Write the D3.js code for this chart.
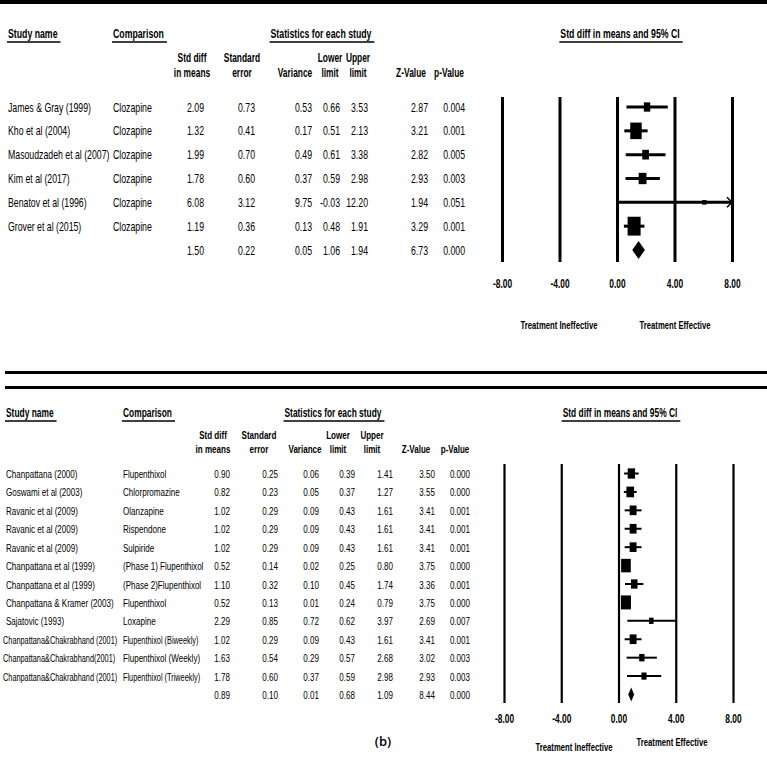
<!DOCTYPE html>
<html>
<head>
<meta charset="utf-8">
<script src="https://cdn.jsdelivr.net/npm/d3@7"></script>
<style>
  body { margin: 0; background: #fff; }
  text { font-family: "Liberation Sans", Arial, sans-serif; fill: #000; }
</style>
</head>
<body>
<div id="chart"></div>
<script>
// ---- data: panel (a) clozapine ----
var topStudies = ["James & Gray (1999)", "Kho et al (2004)", "Masoudzadeh et al (2007)", "Kim et al (2017)", "Benatov et al (1996)", "Grover et al (2015)", ""];
var topComparison = ["Clozapine", "Clozapine", "Clozapine", "Clozapine", "Clozapine", "Clozapine", ""];
var topEffect = [2.09, 1.32, 1.99, 1.78, 6.08, 1.19, 1.50];
var topSE = [0.73, 0.41, 0.70, 0.60, 3.12, 0.36, 0.22];
var topVariance = [0.53, 0.17, 0.49, 0.37, 9.75, 0.13, 0.05];
var topLower = [0.66, 0.51, 0.61, 0.59, -0.03, 0.48, 1.06];
var topUpper = [3.53, 2.13, 3.38, 2.98, 12.20, 1.91, 1.94];
var topZ = [2.87, 3.21, 2.82, 2.93, 1.94, 3.29, 6.73];
var topP = [0.004, 0.001, 0.005, 0.003, 0.051, 0.001, 0.000];

// ---- data: panel (b) flupenthixol etc ----
var botStudies = ["Chanpattana (2000)", "Goswami et al (2003)", "Ravanic et al (2009)", "Ravanic et al (2009)", "Ravanic et al (2009)",
  "Chanpattana et al (1999)", "Chanpattana et al (1999)", "Chanpattana & Kramer (2003)", "Sajatovic (1993)",
  "Chanpattana&Chakrabhand (2001)", "Chanpattana&Chakrabhand(2001)", "Chanpattana&Chakrabhand (2001)", ""];
var botComparison = ["Flupenthixol", "Chlorpromazine", "Olanzapine", "Rispendone", "Sulpiride", "(Phase 1) Flupenthixol",
  "(Phase 2)Flupenthixol", "Flupenthixol", "Loxapine", "Flupenthixol (Biweekly)", "Flupenthixol (Weekly)", "Flupenthixol (Triweekly)", ""];
var botEffect = [0.90, 0.82, 1.02, 1.02, 1.02, 0.52, 1.10, 0.52, 2.29, 1.02, 1.63, 1.78, 0.89];
var botSE = [0.25, 0.23, 0.29, 0.29, 0.29, 0.14, 0.32, 0.13, 0.85, 0.29, 0.54, 0.60, 0.10];
var botVariance = [0.06, 0.05, 0.09, 0.09, 0.09, 0.02, 0.10, 0.01, 0.72, 0.09, 0.29, 0.37, 0.01];
var botLower = [0.39, 0.37, 0.43, 0.43, 0.43, 0.25, 0.45, 0.24, 0.62, 0.43, 0.57, 0.59, 0.68];
var botUpper = [1.41, 1.27, 1.61, 1.61, 1.61, 0.80, 1.74, 0.79, 3.97, 1.61, 2.68, 2.98, 1.09];
var botZ = [3.50, 3.55, 3.41, 3.41, 3.41, 3.75, 3.36, 3.75, 2.69, 3.41, 3.02, 2.93, 8.44];
var botP = [0.000, 0.000, 0.001, 0.001, 0.001, 0.000, 0.001, 0.000, 0.007, 0.001, 0.003, 0.003, 0.000];

var xTicks = [-8, -4, 0, 4, 8];
var colHeads = [["Std diff", "in means"], ["Standard", "error"], ["", "Variance"], ["Lower", "limit"], ["Upper", "limit"], ["", "Z-Value"], ["", "p-Value"]];

var width = 767, height = 762;
var NARROW = 0.7;   // squeeze Liberation Sans to look like Arial Narrow

var svg = d3.select("#chart")
    .append("svg")
    .attr("width", width)
    .attr("height", height);

// thick rules
svg.append("rect").attr("x", 0).attr("y", 0).attr("width", width).attr("height", 4);
svg.append("rect").attr("x", 5).attr("y", 371).attr("width", width - 5).attr("height", 3);
svg.append("rect").attr("x", 5).attr("y", 386).attr("width", width - 5).attr("height", 3);

// narrow text helper
function ntext(g, x, y, str, size, anchor, bold) {
    return g.append("text")
        .attr("transform", "translate(" + x + "," + y + ") scale(" + NARROW + ",1)")
        .attr("font-size", size)
        .attr("font-weight", bold ? "bold" : null)
        .attr("text-anchor", anchor || "start")
        .text(str);
}

// draws one text with a line under it
function underlined(g, x, y, txt, size, anchor) {
    var t = ntext(g, x, y, txt, size, anchor, true);
    var w = t.node().getComputedTextLength() * NARROW;
    var x0 = anchor == "middle" ? x - w / 2 : x;
    g.append("line")
        .attr("x1", x0 - 1).attr("x2", x0 + w + 3)
        .attr("y1", y + 4).attr("y2", y + 4)
        .attr("stroke", "black").attr("stroke-width", 1.6);
}

function drawPanel(p) {
    var g = svg.append("g");
    var n = p.effect.length;
    var fmt2 = function(v) { return v.toFixed(2); };
    var fmt3 = function(v) { return v.toFixed(3); };

    var y = d3.scaleLinear().domain([0, n - 1]).range([p.rowTop, p.rowBottom]);
    var x = d3.scaleLinear().domain([-8, 8]).range(p.xRange);

    // headers
    underlined(g, p.nameX, p.hdrY, "Study name", p.hdrSize);
    underlined(g, p.compX, p.hdrY, "Comparison", p.hdrSize);
    underlined(g, p.statsX, p.hdrY, "Statistics for each study", p.hdrSize, "middle");
    underlined(g, p.ciX, p.hdrY, "Std diff in means and 95% CI", p.hdrSize, "middle");

    colHeads.forEach(function(h, i) {
        ntext(g, p.headX[i], p.sub1Y, h[0], p.subSize, "middle", true);
        ntext(g, p.headX[i], p.sub2Y, h[1], p.subSize, "middle", true);
    });

    // table rows
    var cols = [p.effect, p.se, p.variance, p.lower, p.upper, p.z, p.p];
    for (var i = 0; i < n; i++) {
        var by = y(i) + 4.5;
        var longName = p.studies[i].length > 28;
        ntext(g, p.nameX - (longName ? 3 : 0), by, p.studies[i], longName ? p.rowSize - 1 : p.rowSize);
        ntext(g, p.compX, by, p.comparison[i], p.comparison[i].length > 22 ? p.rowSize - 1 : p.rowSize);
        cols.forEach(function(c, j) {
            ntext(g, p.numX[j], by, j == 6 ? fmt3(c[i]) : fmt2(c[i]), p.rowSize, "end");
        });
    }

    // vertical reference lines + tick labels
    var axis = d3.axisBottom(x)
        .tickValues(xTicks)
        .tickSize(-(p.lineBottom - p.lineTop))
        .tickPadding(p.tickPad)
        .tickFormat(function(d) { return d.toFixed(2); });
    var ax = g.append("g")
        .attr("transform", "translate(0," + p.lineBottom + ")")
        .call(axis);
    ax.select(".domain").remove();
    ax.selectAll("line").attr("stroke", "black").attr("stroke-width", p.gridW);
    ax.selectAll("text")
        .attr("font-size", 12).attr("font-weight", "bold").attr("font-family", null)
        .attr("dy", null)
        .attr("transform", "scale(" + NARROW + ",1)");

    // marker sizes from weights
    var weights = p.se.slice(0, n - 1).map(function(s) { return 1 / (s * s); });
    var size = d3.scalePow().exponent(p.sizeExp)
        .domain([p.sizeExp == 0.5 ? 0 : d3.min(weights), d3.max(weights)])
        .range(p.sizeRange);

    for (var i = 0; i < n - 1; i++) {
        var cy = y(i);
        var lo = Math.max(p.lower[i], -8), hi = Math.min(p.upper[i], 8);
        g.append("line")
            .attr("x1", x(lo)).attr("x2", x(hi))
            .attr("y1", cy).attr("y2", cy)
            .attr("stroke", "black").attr("stroke-width", p.ciW);
        if (p.upper[i] > 8) {
            g.append("path")
                .attr("d", "M" + (x(8) - 5) + "," + (cy - 5) + "L" + x(8) + "," + cy + "L" + (x(8) - 5) + "," + (cy + 5))
                .attr("fill", "none").attr("stroke", "black").attr("stroke-width", 1.5);
        }
        var s = Math.max(size(weights[i]), p.minSize);
        var h = s * p.aspect;
        if (s <= p.minSize) h = s;
        g.append("rect")
            .attr("x", x(p.effect[i]) - s / 2).attr("y", cy - h / 2)
            .attr("width", s).attr("height", h);
    }

    // summary diamond
    var k = n - 1, dy = y(k), dh = p.diamondH / 2;
    g.append("path")
        .attr("d", "M" + x(p.lower[k]) + "," + dy + "L" + x(p.effect[k]) + "," + (dy - dh) +
            "L" + x(p.upper[k]) + "," + dy + "L" + x(p.effect[k]) + "," + (dy + dh) + "Z")
        .attr("fill", "black");

    ntext(g, p.ineffX, p.ineffY, "Treatment Ineffective", 11, "middle", true);
    ntext(g, p.effX, p.effY, "Treatment Effective", 11, "middle", true);
}

drawPanel({
    studies: topStudies, comparison: topComparison, effect: topEffect, se: topSE, variance: topVariance,
    lower: topLower, upper: topUpper, z: topZ, p: topP,
    nameX: 8, compX: 113, statsX: 321, ciX: 620,
    hdrY: 38, hdrSize: 12.5, sub1Y: 62, sub2Y: 77, subSize: 12,
    headX: [192, 242, 295, 330, 358, 411, 449],
    numX: [204, 255, 312, 340, 368, 428, 465],
    rowTop: 107, rowBottom: 250, rowSize: 12.5,
    xRange: [502, 732], lineTop: 97, lineBottom: 262, tickPad: 26, gridW: 3, ciW: 3,
    sizeExp: 0.5, sizeRange: [0, 13], minSize: 4.5, aspect: 1.45, diamondH: 18,
    ineffX: 559, ineffY: 329, effX: 675, effY: 329
});

drawPanel({
    studies: botStudies, comparison: botComparison, effect: botEffect, se: botSE, variance: botVariance,
    lower: botLower, upper: botUpper, z: botZ, p: botP,
    nameX: 6, compX: 123, statsX: 333, ciX: 620,
    hdrY: 417, hdrSize: 12, sub1Y: 439, sub2Y: 453, subSize: 11.5,
    headX: [213, 259, 305, 338, 372, 416, 455],
    numX: [230, 278, 319, 355, 393, 435, 470],
    rowTop: 473.5, rowBottom: 694.5, rowSize: 11.5,
    xRange: [504, 733], lineTop: 464, lineBottom: 703, tickPad: 20, gridW: 2.2, ciW: 2,
    sizeExp: 0.3, sizeRange: [4.5, 10], minSize: 4, aspect: 1.4, diamondH: 14,
    ineffX: 574, ineffY: 751, effX: 672, effY: 746
});

svg.append("text")
    .attr("x", 383).attr("y", 746)
    .attr("text-anchor", "middle")
    .attr("font-size", 13)
    .style("font-family", "'Open Sans', sans-serif")
    .style("font-weight", 600)
    .text("(b)");
</script>
</body>
</html>
